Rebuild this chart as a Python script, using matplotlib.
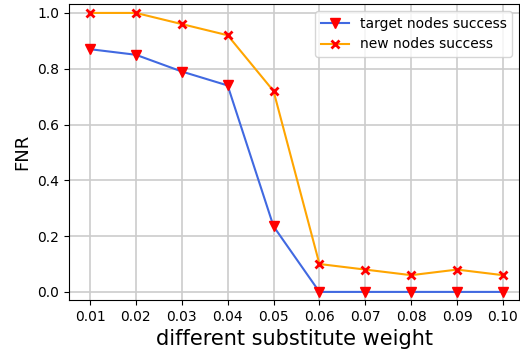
import matplotlib
matplotlib.use("Agg")
import matplotlib.pyplot as plt

weights = [0.01, 0.02, 0.03, 0.04, 0.05, 0.06, 0.07, 0.08, 0.09, 0.10]
weight_labels = ["0.01", "0.02", "0.03", "0.04", "0.05", "0.06", "0.07", "0.08", "0.09", "0.10"]
target_fnr = [0.87, 0.85, 0.79, 0.74, 0.235, 0.0, 0.0, 0.0, 0.0, 0.0]
new_fnr = [1.0, 1.0, 0.96, 0.92, 0.72, 0.10, 0.08, 0.06, 0.08, 0.06]

fig = plt.figure(figsize=(5.2, 3.51), dpi=100)
ax = fig.add_axes([0.1327, 0.1453, 0.8654, 0.8433])

ax.plot(weights, target_fnr, color="royalblue", marker="v", markersize=7,
        markerfacecolor="red", markeredgecolor="red", linewidth=1.5,
        label="target nodes success")
ax.plot(weights, new_fnr, color="orange", marker="x", markersize=6,
        markeredgewidth=2, markeredgecolor="red", linewidth=1.5,
        label="new nodes success")

ax.set_xticks(weights)
ax.set_xticklabels(weight_labels, fontsize=10)
ax.set_yticks([0.0, 0.2, 0.4, 0.6, 0.8, 1.0])
ax.tick_params(axis="y", labelsize=10)
ax.set_xlim(0.00542, 0.1035)
ax.set_ylim(-0.029, 1.032)
ax.grid(True, color="#cccccc", linewidth=1.2)
ax.set_axisbelow(True)

ax.set_xlabel("different substitute weight", fontsize=15)
ax.set_ylabel("FNR", fontsize=13)
ax.legend(loc="upper right", fontsize=10)

fig.savefig("out.png", dpi=100)
